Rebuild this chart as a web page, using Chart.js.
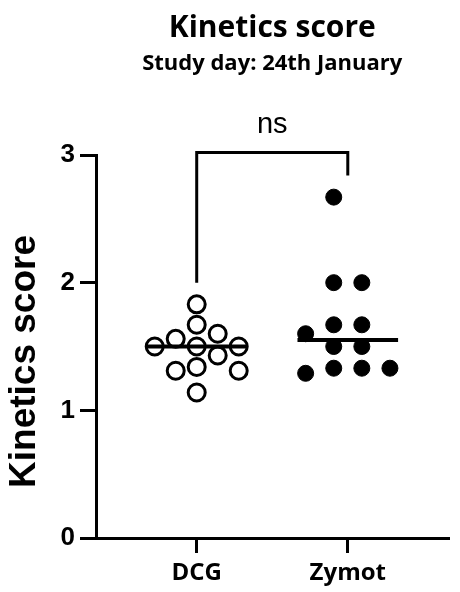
<!DOCTYPE html>
<html>
<head>
<meta charset="utf-8">
<script src="https://cdn.jsdelivr.net/npm/chart.js@4.4.0/dist/chart.umd.min.js"></script>
<style>
  html, body { margin: 0; padding: 0; background: #fff; }
  #wrap { width: 460px; height: 592px; }
</style>
</head>
<body>
<div id="wrap"><canvas id="kinetics"></canvas></div>
<script>
const groupLabels = ['DCG', 'Zymot'];
const dcgScores = [1.83, 1.67, 1.6, 1.56, 1.5, 1.5, 1.5, 1.43, 1.34, 1.31, 1.31, 1.14];
const zymotScores = [2.67, 2, 2, 1.67, 1.67, 1.6, 1.5, 1.5, 1.33, 1.33, 1.29, 1.33];
const yTicks = [0, 1, 2, 3];
const chartTitle = 'Kinetics score';
const chartSubtitle = 'Study day: 24th January';
const yAxisTitle = 'Kinetics score';
const sigLabel = 'ns';
// comparison bracket, in score units
const bracketTop = 3.02;
const bracketLegEnds = [2.0, 2.84];

// simple beeswarm: put each point in the nearest free column
function swarm(values, step, gap) {
  const placed = [];
  const slots = values.map((v) => {
    for (let k = 0; ; k++) {
      const cands = k === 0 ? [0] : [k, -k];
      for (const s of cands) {
        if (!placed.some((p) => p.s === s && Math.abs(p.v - v) < gap)) {
          placed.push({s, v});
          return s;
        }
      }
    }
  });
  const mid = (Math.min(...slots) + Math.max(...slots)) / 2;
  return slots.map((s) => (s - mid) * step);
}

function median(values) {
  const s = [...values].sort((a, b) => a - b);
  const m = Math.floor(s.length / 2);
  return s.length % 2 ? s[m] : (s[m - 1] + s[m]) / 2;
}

function groupPoints(values, idx, step, gap) {
  const offs = swarm(values, step, gap);
  return values.map((v, i) => ({x: idx + offs[i], y: v}));
}

function medianLine(values, idx) {
  const m = median(values);
  return [{x: idx - 0.333, y: m}, {x: idx + 0.333, y: m}];
}

const annotate = {
  id: 'annotate',
  afterDraw(chart) {
    const {ctx, chartArea, scales} = chart;
    const x = scales.x;
    const y = scales.y;
    const cx = (chartArea.left + chartArea.right) / 2;
    ctx.save();
    ctx.fillStyle = '#000';
    ctx.strokeStyle = '#000';
    ctx.textAlign = 'center';
    ctx.textBaseline = 'alphabetic';
    ctx.font = 'bold 30px "Open Sans"';
    ctx.fillText(chartTitle, cx, 37);
    ctx.font = 'bold 22px "Open Sans"';
    ctx.fillText(chartSubtitle, cx, 70);

    // y axis title, sits a little below the axis middle like the original
    ctx.save();
    ctx.translate(25, (chartArea.top + chartArea.bottom) / 2 + 15);
    ctx.rotate(-Math.PI / 2);
    ctx.textBaseline = 'middle';
    ctx.font = 'bold 37px "Liberation Sans"';
    ctx.fillText(yAxisTitle, 0, 0);
    ctx.restore();

    // significance bracket
    const x0 = x.getPixelForValue(0);
    const x1 = x.getPixelForValue(1);
    const yt = y.getPixelForValue(bracketTop);
    ctx.lineWidth = 3;
    ctx.lineJoin = 'miter';
    ctx.beginPath();
    ctx.moveTo(x0, y.getPixelForValue(bracketLegEnds[0]));
    ctx.lineTo(x0, yt);
    ctx.lineTo(x1, yt);
    ctx.lineTo(x1, y.getPixelForValue(bracketLegEnds[1]));
    ctx.stroke();
    ctx.font = '29px "Liberation Sans"';
    ctx.fillText(sigLabel, (x0 + x1) / 2, yt - 19);
    ctx.restore();
  },
};

new Chart(document.getElementById('kinetics'), {
  type: 'scatter',
  data: {
    datasets: [
      {
        label: groupLabels[0],
        data: groupPoints(dcgScores, 0, 0.139, 0.157),
        pointRadius: 8.5,
        pointBorderWidth: 3,
        pointBackgroundColor: '#fff',
        pointBorderColor: '#000',
        order: 2,
      },
      {
        label: groupLabels[1],
        data: groupPoints(zymotScores, 1, 0.186, 0.133),
        pointRadius: 8,
        pointBorderWidth: 1,
        pointBackgroundColor: '#000',
        pointBorderColor: '#000',
        order: 2,
      },
      {
        type: 'line',
        data: medianLine(dcgScores, 0),
        borderColor: '#000',
        borderWidth: 4,
        pointRadius: 0,
        order: 1,
      },
      {
        type: 'line',
        data: medianLine(zymotScores, 1),
        borderColor: '#000',
        borderWidth: 4,
        pointRadius: 0,
        order: 1,
      },
    ],
  },
  options: {
    responsive: true,
    maintainAspectRatio: false,
    animation: false,
    layout: {padding: {top: 155, left: 0, right: 0, bottom: 0}},
    plugins: {
      legend: {display: false},
      tooltip: {enabled: false},
    },
    scales: {
      x: {
        type: 'linear',
        min: -2 / 3,
        max: 5 / 3,
        afterBuildTicks: (scale) => {
          scale.ticks = groupLabels.map((_, i) => ({value: i}));
        },
        afterFit: (scale) => {
          scale.height = 54;
        },
        ticks: {
          callback: (v) => groupLabels[v],
          color: '#000',
          padding: 6,
          font: {family: '"Open Sans"', size: 24, weight: 'bold'},
        },
        grid: {drawOnChartArea: false, tickLength: 15, lineWidth: 3, color: '#000'},
        border: {width: 3, color: '#000'},
      },
      y: {
        min: 0,
        max: 3,
        afterBuildTicks: (scale) => {
          scale.ticks = yTicks.map((v) => ({value: v}));
        },
        afterFit: (scale) => {
          scale.width = 96;
        },
        ticks: {
          color: '#000',
          padding: 5,
          font: {family: '"Liberation Sans"', size: 26, weight: 'bold'},
        },
        grid: {drawOnChartArea: false, tickLength: 16, lineWidth: 3, color: '#000'},
        border: {width: 3, color: '#000'},
      },
    },
  },
  plugins: [annotate],
});
</script>
</body>
</html>
